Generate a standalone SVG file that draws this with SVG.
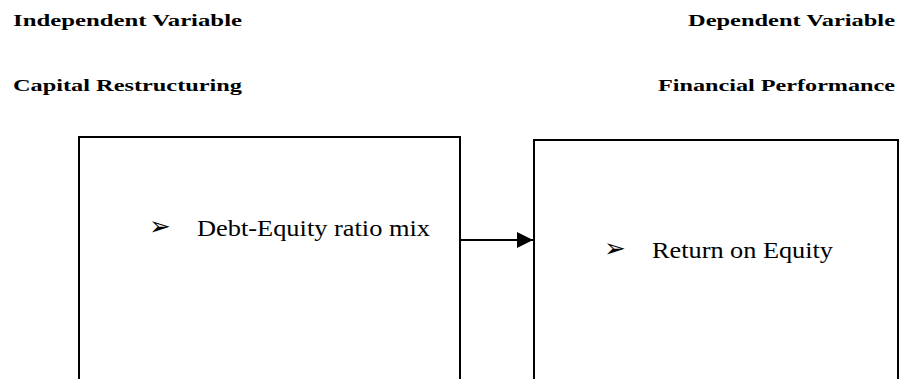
<svg xmlns="http://www.w3.org/2000/svg" width="905" height="379" viewBox="0 0 905 379">
<style>
.hdr{font-family:"Liberation Serif","Times New Roman",serif;font-weight:bold;font-size:16px;fill:#000}
.body{font-family:"Liberation Serif","Times New Roman",serif;font-size:23px;fill:#000}
.bul{font-family:"DejaVu Sans",sans-serif;font-size:26px;fill:#000}
.box{fill:#fff;stroke:#000;stroke-width:2}
.conn{stroke:#000;stroke-width:2;fill:none}
</style>
<defs>
<marker id="ah" markerWidth="16" markerHeight="16" refX="16" refY="8" orient="auto" markerUnits="userSpaceOnUse">
<path d="M0,0 L16,8 L0,16 Z" fill="#000"/>
</marker>
</defs>
<rect width="905" height="379" fill="#fff"/>
<g id="headers">
<text class="hdr" x="13" y="26" textLength="229" lengthAdjust="spacingAndGlyphs">Independent Variable</text>
<text class="hdr" x="688" y="26" textLength="207" lengthAdjust="spacingAndGlyphs">Dependent Variable</text>
<text class="hdr" x="13" y="91" textLength="229" lengthAdjust="spacingAndGlyphs">Capital Restructuring</text>
<text class="hdr" x="658" y="91" textLength="237" lengthAdjust="spacingAndGlyphs">Financial Performance</text>
</g>
<g id="node-debt-equity">
<rect class="box" x="79" y="137" width="381" height="260"/>
<text class="bul" x="149" y="235">➢</text>
<text class="body" x="197" y="236" textLength="233" lengthAdjust="spacingAndGlyphs">Debt-Equity ratio mix</text>
</g>
<g id="node-roe">
<rect class="box" x="534" y="140" width="364" height="260"/>
<text class="bul" x="604" y="257">➢</text>
<text class="body" x="652" y="258" textLength="181" lengthAdjust="spacingAndGlyphs">Return on Equity</text>
</g>
<g id="connectors">
<line class="conn" x1="460" y1="240" x2="533" y2="240" marker-end="url(#ah)"/>
</g>
</svg>
